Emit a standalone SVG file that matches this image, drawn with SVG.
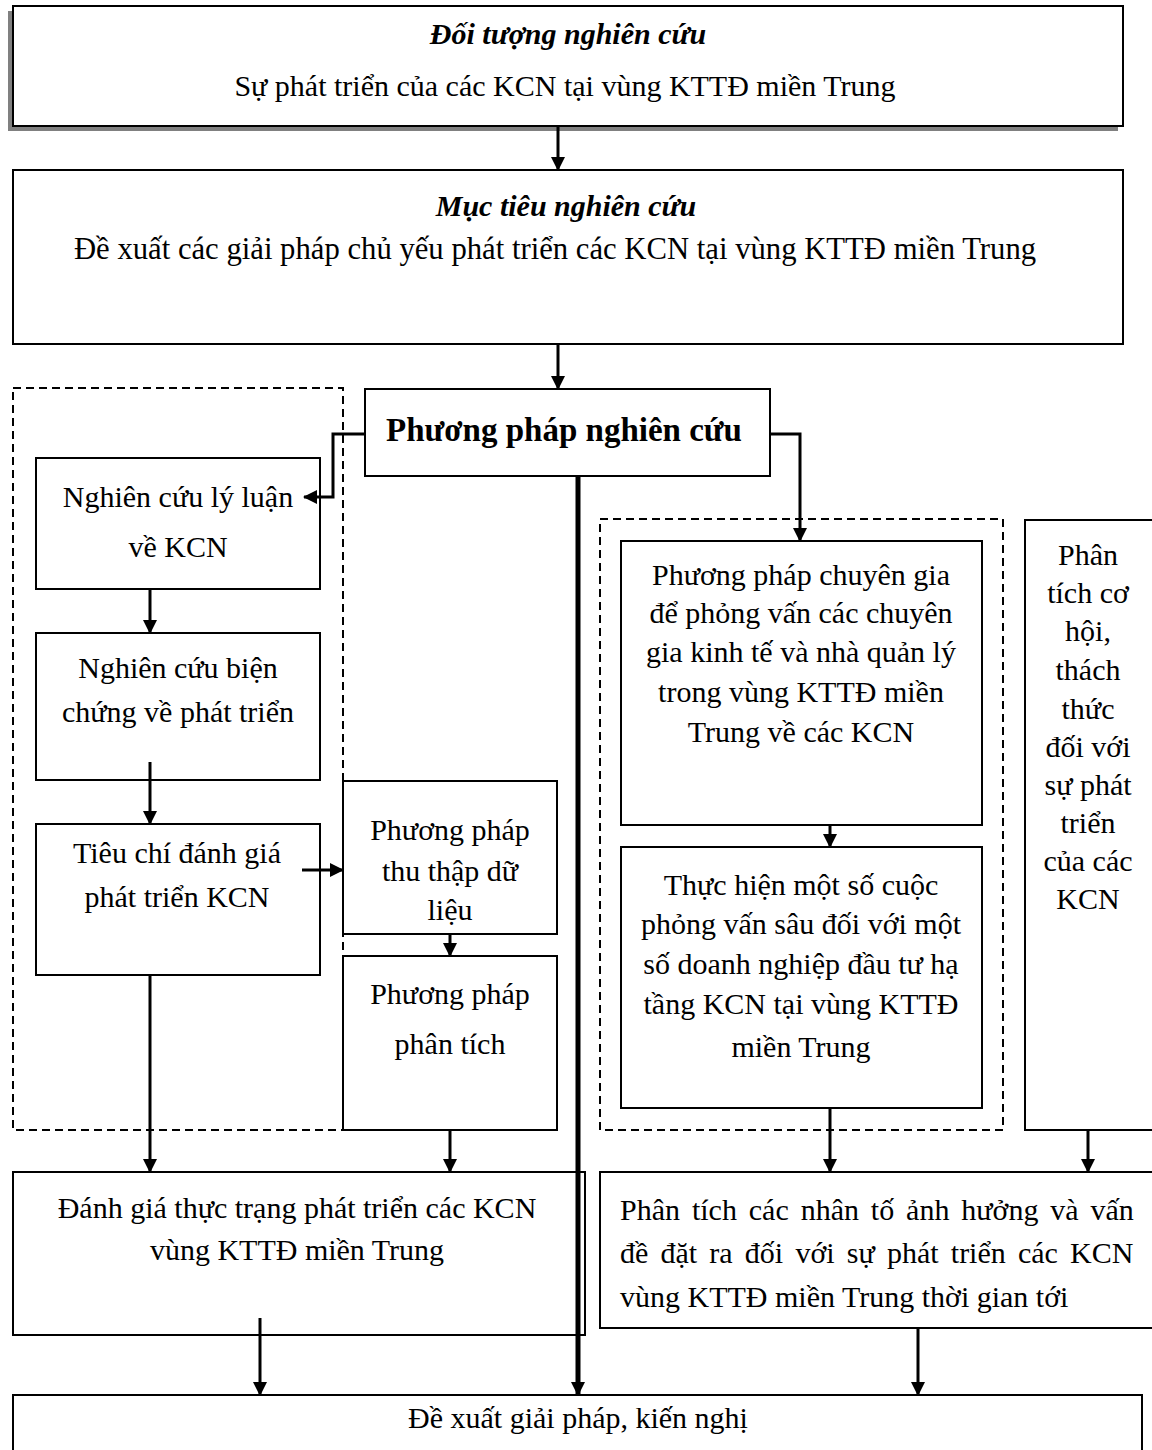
<svg xmlns="http://www.w3.org/2000/svg" width="1152" height="1450" viewBox="0 0 1152 1450">
<defs>
<style>
.box{fill:#fff;stroke:#000;stroke-width:2}
.dash{fill:none;stroke:#000;stroke-width:2;stroke-dasharray:8,5}
.t{font-family:"Liberation Serif","Times New Roman",serif;font-size:30px;fill:#000;text-anchor:middle}
.ti{font-style:italic;font-weight:bold}
.tb{font-weight:bold;font-size:33px}
.c{fill:none;stroke:#000;stroke-width:3}
.ck{fill:none;stroke:#000;stroke-width:5}
</style>
<marker id="arr" markerUnits="userSpaceOnUse" markerWidth="14" markerHeight="14" refX="13" refY="7" orient="auto" viewBox="0 0 14 14">
<path d="M0,0 L14,7 L0,14 z" fill="#000"/>
</marker>
</defs>
<rect x="0" y="0" width="1152" height="1450" fill="#fff"/>

<g id="groups">
<rect class="dash" x="13" y="388" width="330" height="742"/>
<rect class="dash" x="600" y="519" width="403" height="611"/>
</g>

<g id="n-doituong">
<rect x="8" y="11" width="1110" height="120" fill="#808080"/>
<rect class="box" x="13" y="6" width="1110" height="120"/>
<text class="t ti" x="568" y="44">Đối tượng nghiên cứu</text>
<text class="t" x="565" y="96">Sự phát triển của các KCN tại vùng KTTĐ miền Trung</text>
</g>

<g id="n-muctieu">
<rect class="box" x="13" y="170" width="1110" height="174"/>
<text class="t ti" x="566" y="216">Mục tiêu nghiên cứu</text>
<text class="t" x="555" y="259" style="font-size:30.7px">Đề xuất các giải pháp chủ yếu phát triển các KCN tại vùng KTTĐ miền Trung</text>
</g>

<g id="n-ppnc">
<rect class="box" x="365" y="389" width="405" height="87"/>
<text class="t tb" x="564" y="441">Phương pháp nghiên cứu</text>
</g>

<g id="n-lyluan">
<rect class="box" x="36" y="458" width="284" height="131"/>
<text class="t" x="178" y="507">Nghiên cứu lý luận</text>
<text class="t" x="178" y="557">về KCN</text>
</g>

<g id="n-bienchung">
<rect class="box" x="36" y="633" width="284" height="147"/>
<text class="t" x="178" y="678">Nghiên cứu biện</text>
<text class="t" x="178" y="722">chứng về phát triển</text>
</g>

<g id="n-tieuchi">
<rect class="box" x="36" y="824" width="284" height="151"/>
<text class="t" x="177" y="863">Tiêu chí đánh giá</text>
<text class="t" x="177" y="907">phát triển KCN</text>
</g>

<g id="n-thuthap">
<rect class="box" x="343" y="781" width="214" height="153"/>
<text class="t" x="450" y="840">Phương pháp</text>
<text class="t" x="450" y="881">thu thập dữ</text>
<text class="t" x="450" y="920">liệu</text>
</g>

<g id="n-phantich">
<rect class="box" x="343" y="956" width="214" height="174"/>
<text class="t" x="450" y="1004">Phương pháp</text>
<text class="t" x="450" y="1054">phân tích</text>
</g>

<g id="n-danhgia">
<rect class="box" x="13" y="1172" width="572" height="163"/>
<text class="t" x="297" y="1218">Đánh giá thực trạng phát triển các KCN</text>
<text class="t" x="297" y="1260">vùng KTTĐ miền Trung</text>
</g>

<g id="n-chuyengia">
<rect class="box" x="621" y="541" width="361" height="284"/>
<text class="t" x="801" y="585">Phương pháp chuyên gia</text>
<text class="t" x="801" y="623">để phỏng vấn các chuyên</text>
<text class="t" x="801" y="662">gia kinh tế và nhà quản lý</text>
<text class="t" x="801" y="702">trong vùng KTTĐ miền</text>
<text class="t" x="801" y="742">Trung về các KCN</text>
</g>

<g id="n-phongvan">
<rect class="box" x="621" y="847" width="361" height="261"/>
<text class="t" x="801" y="895">Thực hiện một số cuộc</text>
<text class="t" x="801" y="934">phỏng vấn sâu đối với một</text>
<text class="t" x="801" y="974">số doanh nghiệp đầu tư hạ</text>
<text class="t" x="801" y="1014">tầng KCN tại vùng KTTĐ</text>
<text class="t" x="801" y="1057">miền Trung</text>
</g>

<g id="n-cohoi">
<rect class="box" x="1025" y="520" width="140" height="610"/>
<text class="t" x="1088" y="565">Phân</text>
<text class="t" x="1088" y="603">tích cơ</text>
<text class="t" x="1088" y="641">hội,</text>
<text class="t" x="1088" y="680">thách</text>
<text class="t" x="1088" y="719">thức</text>
<text class="t" x="1088" y="757">đối với</text>
<text class="t" x="1088" y="795">sự phát</text>
<text class="t" x="1088" y="833">triển</text>
<text class="t" x="1088" y="871">của các</text>
<text class="t" x="1088" y="909">KCN</text>
</g>

<g id="n-nhanto">
<rect class="box" x="600" y="1172" width="560" height="156"/>
<text class="t" x="620" y="1220" style="text-anchor:start;word-spacing:4.4px">Phân tích các nhân tố ảnh hưởng và vấn</text>
<text class="t" x="620" y="1263" style="text-anchor:start;word-spacing:4.7px">đề đặt ra đối với sự phát triển các KCN</text>
<text class="t" x="620" y="1307" style="text-anchor:start">vùng KTTĐ miền Trung thời gian tới</text>
</g>

<g id="n-dexuat">
<rect class="box" x="13" y="1395" width="1129" height="70"/>
<text class="t" x="578" y="1428">Đề xuất giải pháp, kiến nghị</text>
</g>

<g id="connectors">
<line class="c" x1="558" y1="126" x2="558" y2="170" marker-end="url(#arr)"/>
<line class="c" x1="558" y1="344" x2="558" y2="389" marker-end="url(#arr)"/>
<polyline class="c" points="365,434 333,434 333,497 304,497" marker-end="url(#arr)"/>
<polyline class="c" points="770,434 800,434 800,541" marker-end="url(#arr)"/>
<line class="c" x1="150" y1="589" x2="150" y2="633" marker-end="url(#arr)"/>
<line class="c" x1="150" y1="762" x2="150" y2="824" marker-end="url(#arr)"/>
<line class="c" x1="302" y1="870" x2="343" y2="870" marker-end="url(#arr)"/>
<line class="c" x1="450" y1="934" x2="450" y2="956" marker-end="url(#arr)"/>
<line class="c" x1="150" y1="975" x2="150" y2="1172" marker-end="url(#arr)"/>
<line class="c" x1="450" y1="1130" x2="450" y2="1172" marker-end="url(#arr)"/>
<line class="ck" x1="578" y1="476" x2="578" y2="1395" marker-end="url(#arr)"/>
<line class="c" x1="260" y1="1318" x2="260" y2="1395" marker-end="url(#arr)"/>
<line class="c" x1="830" y1="825" x2="830" y2="847" marker-end="url(#arr)"/>
<line class="c" x1="830" y1="1108" x2="830" y2="1172" marker-end="url(#arr)"/>
<line class="c" x1="1088" y1="1130" x2="1088" y2="1172" marker-end="url(#arr)"/>
<line class="c" x1="918" y1="1328" x2="918" y2="1395" marker-end="url(#arr)"/>
</g>
</svg>
